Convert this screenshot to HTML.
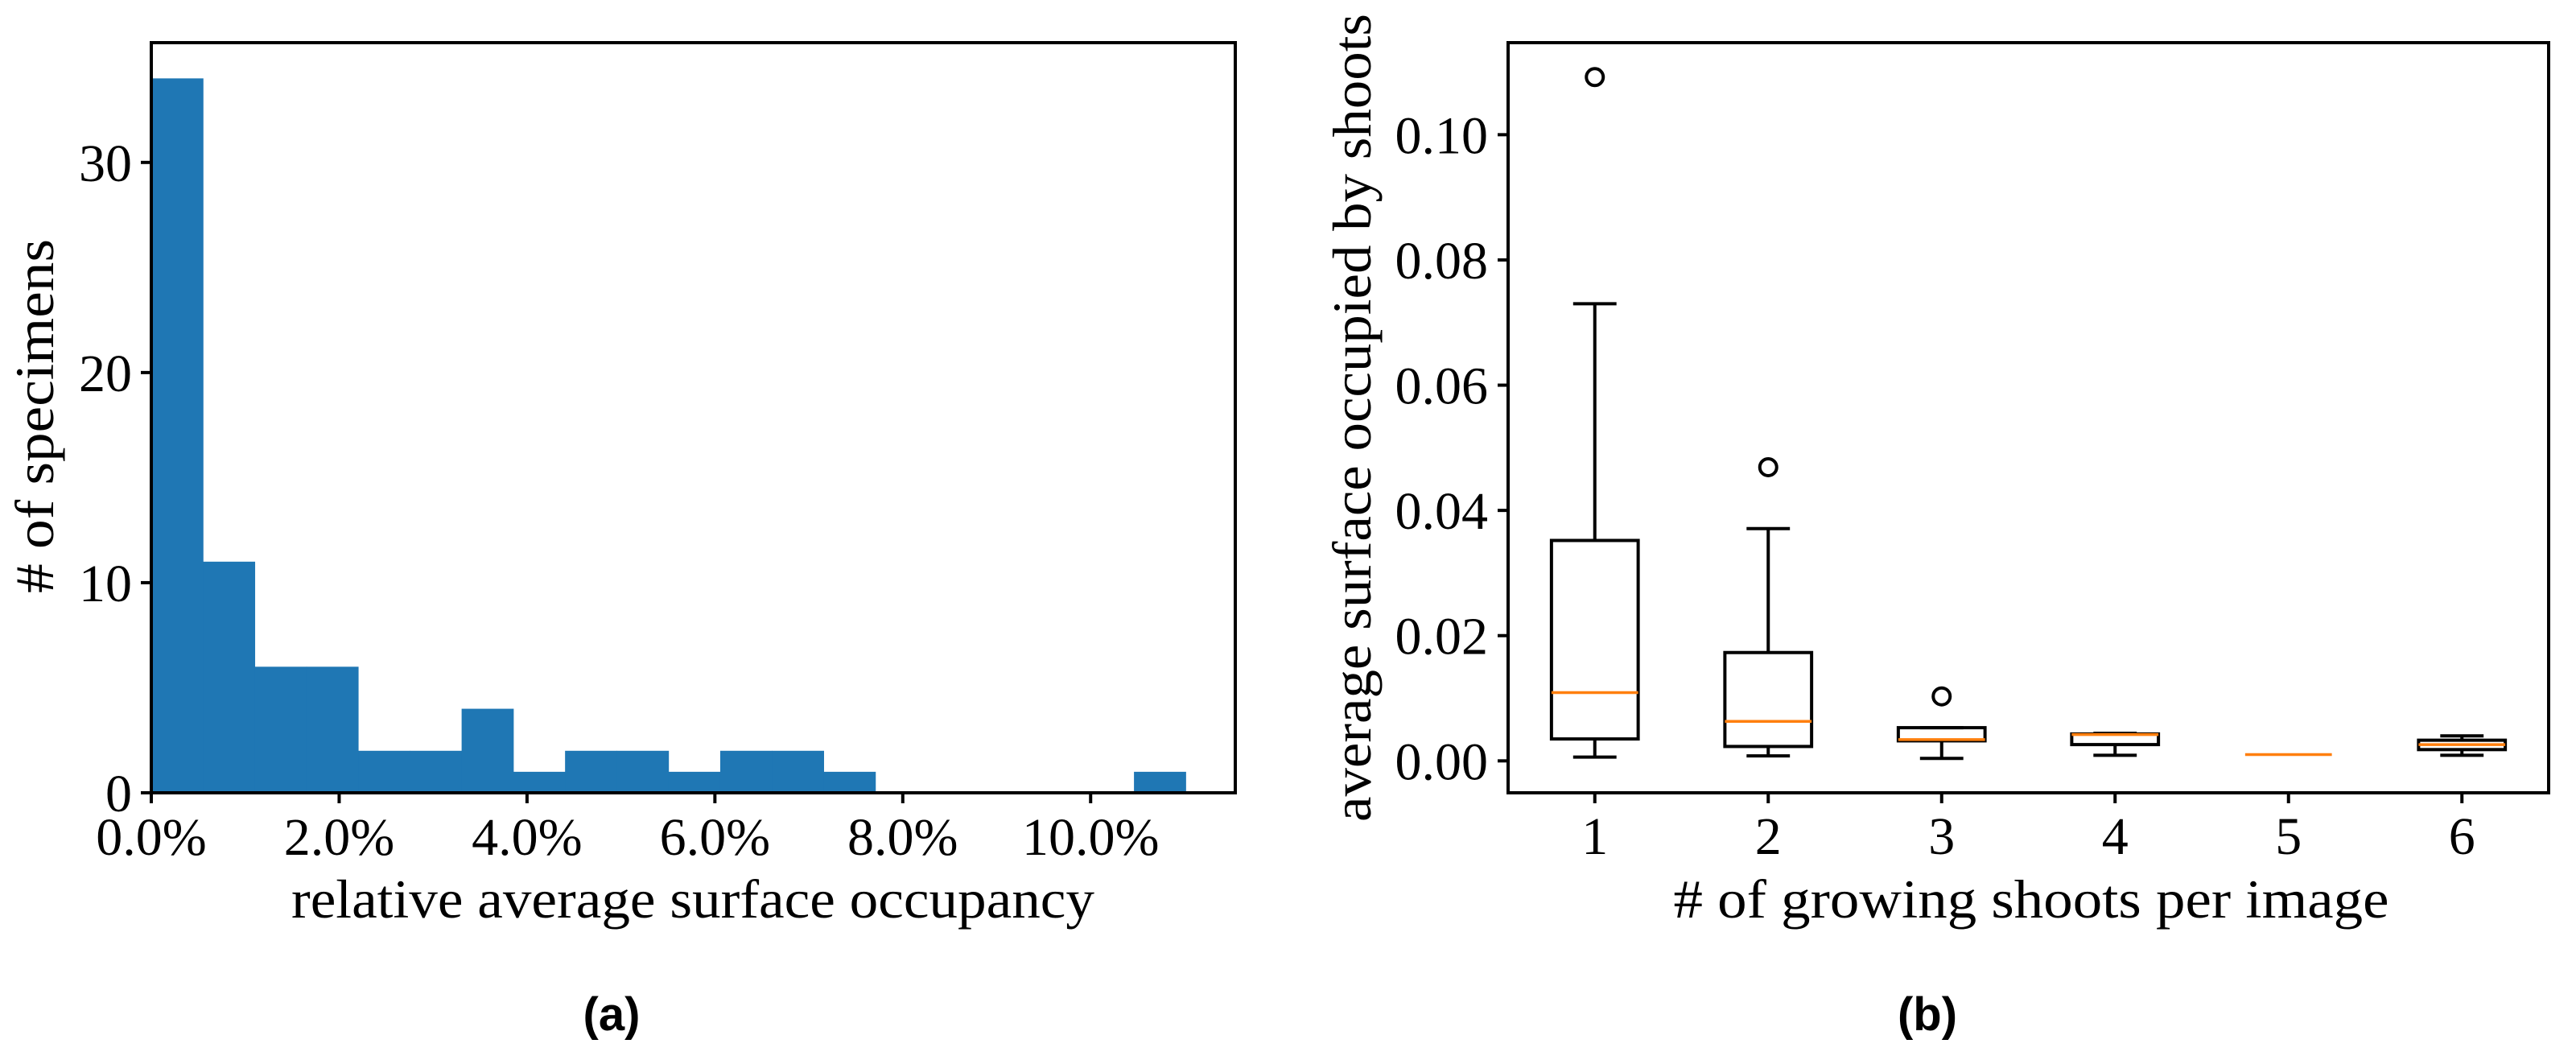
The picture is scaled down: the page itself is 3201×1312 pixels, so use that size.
<!DOCTYPE html>
<html><head><meta charset="utf-8"><style>
html,body{margin:0;padding:0;background:#fff;}
svg{display:block;}
text{font-family:"Liberation Serif",serif;fill:#000;}
.cap{font-family:"Liberation Sans",sans-serif;font-weight:bold;}
</style></head><body>
<svg id="fig" width="3201" height="1312" viewBox="0 0 3201 1312" xmlns="http://www.w3.org/2000/svg">
<g id="histA"></g>
<g id="boxB"></g>
</svg>
<script>
// ---- Panel (a) histogram data ----
const histCounts = [34, 11, 6, 6, 2, 2, 4, 1, 2, 2, 1, 2, 2, 1, 0, 0, 0, 0, 0, 1];
const histBinStart = 0.0;
const histBinWidth = 0.5506;
const histXTicks = [0, 2, 4, 6, 8, 10];
const histXTickLabels = ["0.0%", "2.0%", "4.0%", "6.0%", "8.0%", "10.0%"];
const histYTicks = [0, 10, 20, 30];

// ---- Panel (b) boxplot data ----
const boxCategories = ["1", "2", "3", "4", "5", "6"];
const boxWhiskLow = [0.0006, 0.0008, 0.0004, 0.0009, 0.0010, 0.0009];
const boxQ1 = [0.0035, 0.0023, 0.0032, 0.0026, 0.0010, 0.0018];
const boxMedian = [0.0109, 0.0063, 0.0034, 0.0042, 0.0010, 0.0026];
const boxQ3 = [0.0352, 0.0173, 0.0053, 0.0043, 0.0010, 0.0033];
const boxWhiskHigh = [0.0730, 0.0371, 0.0053, 0.0044, 0.0010, 0.0040];
const boxFliers = [[0.1092], [0.0469], [0.0103], [], [], []];
const boxYTicks = [0.00, 0.02, 0.04, 0.06, 0.08, 0.10];
const boxYTickLabels = ["0.00", "0.02", "0.04", "0.06", "0.08", "0.10"];

const NS = "http://www.w3.org/2000/svg";
function mk(parent, tag, attrs) {
  const e = document.createElementNS(NS, tag);
  for (const k in attrs) e.setAttribute(k, attrs[k]);
  parent.appendChild(e);
  return e;
}

// ===== Panel A =====
(function () {
  const g = document.getElementById("histA");
  const L = 188, R = 1535, T = 53, B = 985;
  const xMin = 0, xMax = 11.54, yMin = 0, yMax = 35.7;
  const xs = v => L + (v - xMin) / (xMax - xMin) * (R - L);
  const ys = v => B - (v - yMin) / (yMax - yMin) * (B - T);
  histCounts.forEach((c, i) => {
    if (c <= 0) return;
    const x0 = xs(histBinStart + i * histBinWidth), x1 = xs(histBinStart + (i + 1) * histBinWidth);
    const r = mk(g, "rect", { x: x0, y: ys(c), width: x1 - x0 + 0.5, height: ys(0) - ys(c), fill: "#1f77b4" });
    
    
  });
  const fr = mk(g, "rect", { x: L, y: T, width: R - L, height: B - T, fill: "none", stroke: "#000", "stroke-width": 4 });
  
  
  histXTicks.forEach((v, i) => {
    const x = xs(v);
    const t = mk(g, "line", { x1: x, x2: x, y1: B, y2: B + 13, stroke: "#000", "stroke-width": 4 });
    
    
    const tx = mk(g, "text", { x: x, y: 1062, "font-size": 66, "text-anchor": "middle" });
    tx.textContent = histXTickLabels[i];
    
    
  });
  histYTicks.forEach(v => {
    const y = ys(v);
    const t = mk(g, "line", { x1: L - 13, x2: L, y1: y, y2: y, stroke: "#000", "stroke-width": 4 });
    
    
    const tx = mk(g, "text", { x: 164, y: y + 23, "font-size": 66, "text-anchor": "end" });
    tx.textContent = String(v);
    
    
  });
  const xl = mk(g, "text", { x: 861, y: 1140, "font-size": 68, "text-anchor": "middle", textLength: 998, lengthAdjust: "spacingAndGlyphs" });
  xl.textContent = "relative average surface occupancy";
  
  
  const yl = mk(g, "text", { x: 0, y: 0, "font-size": 68, "text-anchor": "middle", transform: "translate(66,517) rotate(-90)", textLength: 440, lengthAdjust: "spacingAndGlyphs" });
  yl.textContent = "# of specimens";
  
  
  const cp = mk(g, "text", { x: 760, y: 1280, "font-size": 58, "text-anchor": "middle", class: "cap" });
  cp.textContent = "(a)";
  
  
})();

// ===== Panel B =====
(function () {
  const g = document.getElementById("boxB");
  const L = 1874, R = 3167, T = 53, B = 985;
  const xMin = 0.5, xMax = 6.5, yMin = -0.0051, yMax = 0.1147;
  const xs = v => L + (v - xMin) / (xMax - xMin) * (R - L);
  const ys = v => B - (v - yMin) / (yMax - yMin) * (B - T);
  const fr = mk(g, "rect", { x: L, y: T, width: R - L, height: B - T, fill: "none", stroke: "#000", "stroke-width": 4 });
  
  
  boxCategories.forEach((c, i) => {
    const pos = i + 1, cx = xs(pos);
    const bx0 = xs(pos - 0.25), bx1 = xs(pos + 0.25);
    const cx0 = xs(pos - 0.125), cx1 = xs(pos + 0.125);
    const grp = mk(g, "g", {});
    
    
    const sw = 4;
    if (boxQ3[i] > boxQ1[i] || boxWhiskHigh[i] > boxWhiskLow[i]) {
      mk(grp, "line", { x1: cx, x2: cx, y1: ys(boxQ1[i]), y2: ys(boxWhiskLow[i]), stroke: "#000", "stroke-width": sw });
      mk(grp, "line", { x1: cx, x2: cx, y1: ys(boxQ3[i]), y2: ys(boxWhiskHigh[i]), stroke: "#000", "stroke-width": sw });
      mk(grp, "line", { x1: cx0, x2: cx1, y1: ys(boxWhiskLow[i]), y2: ys(boxWhiskLow[i]), stroke: "#000", "stroke-width": sw });
      mk(grp, "line", { x1: cx0, x2: cx1, y1: ys(boxWhiskHigh[i]), y2: ys(boxWhiskHigh[i]), stroke: "#000", "stroke-width": sw });
      mk(grp, "rect", { x: bx0, y: ys(boxQ3[i]), width: bx1 - bx0, height: ys(boxQ1[i]) - ys(boxQ3[i]), fill: "none", stroke: "#000", "stroke-width": sw });
    }
    const m = mk(grp, "line", { x1: bx0, x2: bx1, y1: ys(boxMedian[i]), y2: ys(boxMedian[i]), stroke: "#ff7f0e", "stroke-width": 3.5 });
    
    
    boxFliers[i].forEach(f => {
      const o = mk(grp, "circle", { cx: cx, cy: ys(f), r: 10.5, fill: "none", stroke: "#000", "stroke-width": 4 });
      
      
    });
    const t = mk(g, "line", { x1: cx, x2: cx, y1: B, y2: B + 13, stroke: "#000", "stroke-width": 4 });
    
    
    const tx = mk(g, "text", { x: cx, y: 1061, "font-size": 66, "text-anchor": "middle" });
    tx.textContent = c;
    
    
  });
  boxYTicks.forEach((v, i) => {
    const y = ys(v);
    const t = mk(g, "line", { x1: L - 13, x2: L, y1: y, y2: y, stroke: "#000", "stroke-width": 4 });
    
    
    const tx = mk(g, "text", { x: 1849, y: y + 23, "font-size": 66, "text-anchor": "end" });
    tx.textContent = boxYTickLabels[i];
    
    
  });
  const xl = mk(g, "text", { x: 2524, y: 1140, "font-size": 68, "text-anchor": "middle", textLength: 889, lengthAdjust: "spacingAndGlyphs" });
  xl.textContent = "# of growing shoots per image";
  
  
  const yl = mk(g, "text", { x: 0, y: 0, "font-size": 68, "text-anchor": "middle", transform: "translate(1703,519) rotate(-90)", textLength: 1004, lengthAdjust: "spacingAndGlyphs" });
  yl.textContent = "average surface occupied by shoots";
  
  
  const cp = mk(g, "text", { x: 2395, y: 1280, "font-size": 58, "text-anchor": "middle", class: "cap" });
  cp.textContent = "(b)";
  
  
})();
</script>
</body></html>
